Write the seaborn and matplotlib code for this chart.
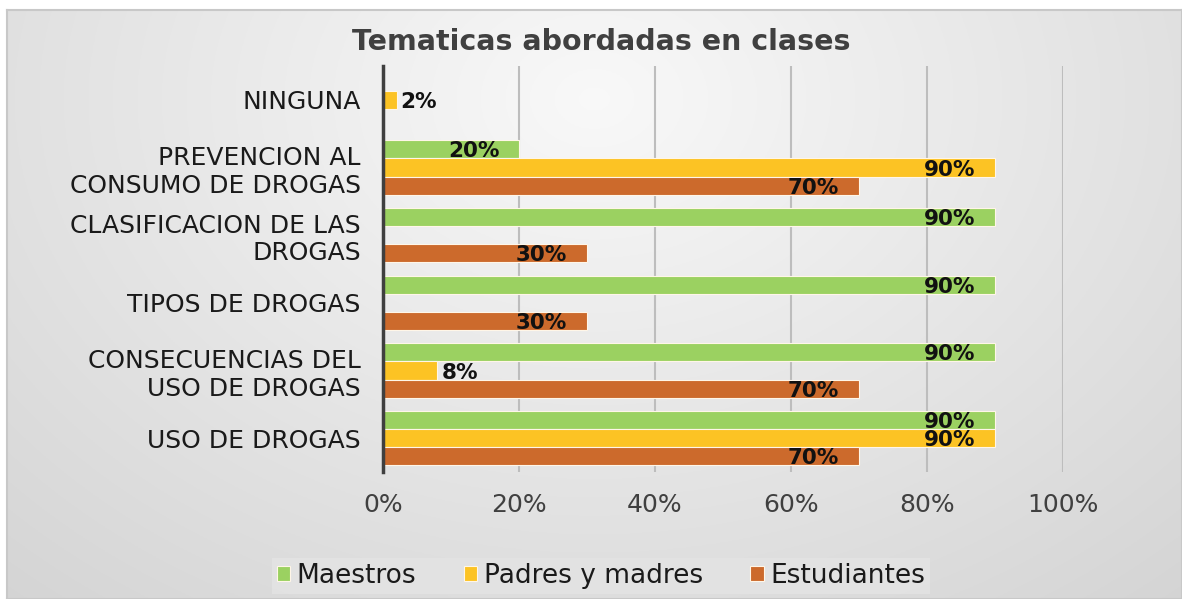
import numpy as np
import pandas as pd
import matplotlib
matplotlib.use("Agg")
import matplotlib.pyplot as plt
import seaborn as sns
from matplotlib.ticker import PercentFormatter

categories = ["NINGUNA", "PREVENCION AL\nCONSUMO DE DROGAS", "CLASIFICACION DE LAS\nDROGAS",
              "TIPOS DE DROGAS", "CONSECUENCIAS DEL\nUSO DE DROGAS", "USO DE DROGAS"]
series = ["Maestros", "Padres y madres", "Estudiantes"]
maestros = [0, 20, 90, 90, 90, 90]
padres = [2, 90, 0, 0, 8, 90]
estudiantes = [0, 70, 30, 30, 70, 70]
colors = ["#9BD161", "#FCC324", "#CC6A2C"]
xticks = [0, 20, 40, 60, 80, 100]

rows = []
for s, vals in zip(series, [maestros, padres, estudiantes]):
    for c, v in zip(categories, vals):
        rows.append({"cat": c, "serie": s, "val": v})
df = pd.DataFrame(rows)

sns.set_theme(style="white")
plt.rcParams["font.family"] = ["DejaVu Sans"]

W, H = 1182, 599
fig = plt.figure(figsize=(W / 100, H / 100), dpi=100)
fig.patch.set_facecolor("white")

# background gradient panel
bg = fig.add_axes([7 / W, 0, 1 - 7 / W, 1 - 10 / H], zorder=-10)
yy, xx = np.mgrid[0:1:300j, 0:1:600j]
r = np.sqrt(((xx - 0.5) / 0.8) ** 2 + ((yy - 0.15) / 1.2) ** 2)
g = np.clip(0.975 - 0.15 * r, 0.82, 0.975)
bg.imshow(np.dstack([g, g, g]), aspect="auto", extent=[0, 1, 0, 1], origin="upper")
bg.set_xlim(0, 1); bg.set_ylim(0, 1)
for s in bg.spines.values():
    s.set_color("#c8c8c8"); s.set_linewidth(1.5)
bg.set_xticks([]); bg.set_yticks([])

ax = fig.add_axes([383 / W, 1 - 472 / H, 680 / W, 406 / H])
ax.patch.set_alpha(0)
sns.barplot(data=df, y="cat", x="val", hue="serie", order=categories, hue_order=series,
            palette=colors, saturation=1, orient="h", width=0.8, edgecolor="#fff6e8",
            linewidth=0.8, ax=ax, legend=True, zorder=2)

ax.set_xlim(0, 100)
ax.set_xticks(xticks)
ax.xaxis.set_major_formatter(PercentFormatter(decimals=0))
ax.grid(axis="x", color="#bdbdbd", linewidth=1.5, zorder=0)
ax.set_axisbelow(True)
for side in ["top", "right", "bottom"]:
    ax.spines[side].set_visible(False)
ax.spines["left"].set_color("#3f3f3f")
ax.spines["left"].set_linewidth(2.5)
ax.spines["left"].set_zorder(5)
ax.set_xlabel(""); ax.set_ylabel("")
ax.tick_params(axis="x", length=0, pad=15, labelsize=18, colors="#404040")
ax.tick_params(axis="y", length=0, pad=16, labelsize=18, colors="#1a1a1a")
for lab in ax.get_yticklabels():
    lab.set_linespacing(1.2)

for cont in ax.containers:
    for bar in cont:
        v = bar.get_width()
        if v <= 0:
            continue
        yc = bar.get_y() + bar.get_height() / 2 + 0.03
        if v < 10:
            ax.text(v + 0.6, yc, f"{v:.0f}%", ha="left", va="center", fontsize=15.5,
                    fontweight="bold", color="#111111", zorder=6)
        else:
            ax.text(v - 2.9, yc, f"{v:.0f}%", ha="right", va="center", fontsize=15.5,
                    fontweight="bold", color="#111111", zorder=6)

handles, labels = ax.get_legend_handles_labels()
ax.get_legend().remove()
leg = fig.legend(handles, labels, loc="center", bbox_to_anchor=(601 / W, 1 - 576 / H), ncol=3,
                 frameon=True, fontsize=19, handlelength=0.5, handleheight=0.5,
                 handletextpad=0.25, columnspacing=1.8, borderpad=0.2, fancybox=False)
leg.get_frame().set_facecolor("#e4e4e4")
leg.get_frame().set_edgecolor("none")
for t in leg.get_texts():
    t.set_color("#1a1a1a")

fig.text(601 / W, 1 - 42 / H, "Tematicas abordadas en clases", ha="center", va="center",
         fontsize=20.5, fontweight="bold", color="#404040")

fig.savefig("out.png", dpi=100, facecolor=fig.get_facecolor())
